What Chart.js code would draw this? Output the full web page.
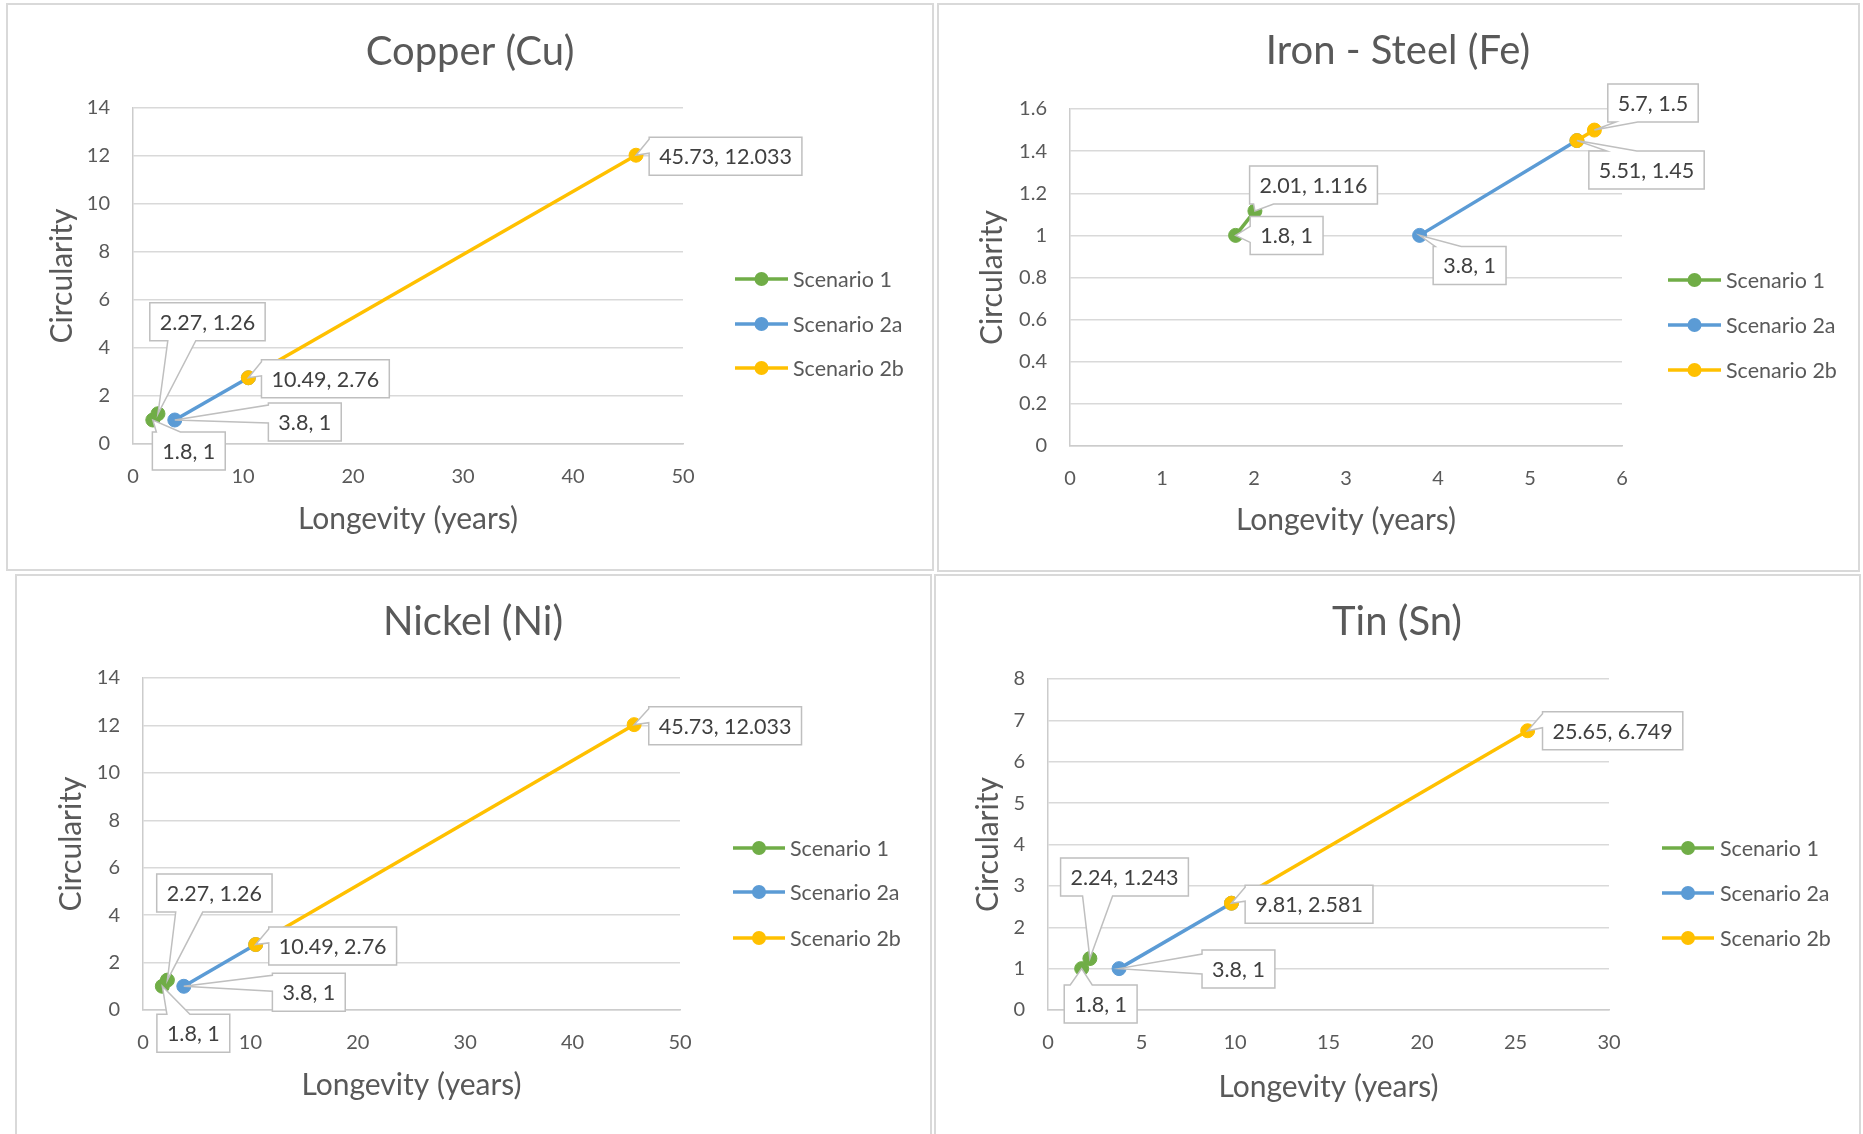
<!DOCTYPE html>
<html>
<head>
<meta charset="utf-8">
<title>Longevity vs circularity by metal</title>
<script src="https://cdn.jsdelivr.net/npm/chart.js@4.4.1/dist/chart.umd.min.js"></script>
<style>
  html, body { margin: 0; padding: 0; background: #fff; width: 1863px; height: 1134px; overflow: hidden; }
  canvas { position: absolute; }
  .frame { position: absolute; box-sizing: border-box; border: 2px solid #d9d9d9; pointer-events: none; }
</style>
</head>
<body>
<script>
// ---- Series (longevity in years, circularity) ----
const seriesNames = ['Scenario 1', 'Scenario 2a', 'Scenario 2b'];

const copperScenario1  = [[1.8, 1], [2.27, 1.26]];
const copperScenario2a = [[3.8, 1], [10.49, 2.76]];
const copperScenario2b = [[10.49, 2.76], [45.73, 12.033]];

const ironScenario1  = [[1.8, 1], [2.01, 1.116]];
const ironScenario2a = [[3.8, 1], [5.51, 1.45]];
const ironScenario2b = [[5.51, 1.45], [5.7, 1.5]];

const nickelScenario1  = [[1.8, 1], [2.27, 1.26]];
const nickelScenario2a = [[3.8, 1], [10.49, 2.76]];
const nickelScenario2b = [[10.49, 2.76], [45.73, 12.033]];

const tinScenario1  = [[1.8, 1], [2.24, 1.243]];
const tinScenario2a = [[3.8, 1], [9.81, 2.581]];
const tinScenario2b = [[9.81, 2.581], [25.65, 6.749]];

// ---- Axis ticks ----
const copperXTicks = [0, 10, 20, 30, 40, 50];
const copperYTicks = [0, 2, 4, 6, 8, 10, 12, 14];
const ironXTicks   = [0, 1, 2, 3, 4, 5, 6];
const ironYTicks   = [0, 0.2, 0.4, 0.6, 0.8, 1, 1.2, 1.4, 1.6];
const nickelXTicks = [0, 10, 20, 30, 40, 50];
const nickelYTicks = [0, 2, 4, 6, 8, 10, 12, 14];
const tinXTicks    = [0, 5, 10, 15, 20, 25, 30];
const tinYTicks    = [0, 1, 2, 3, 4, 5, 6, 7, 8];

// ---- Styling ----
const seriesColors = ['#70ad47', '#5b9bd5', '#ffc000'];
const FONT = 'Lato';
const TEXT = '#595959';
const LABEL_TEXT = '#404040';
const GRID = '#d9d9d9';
const AXIS = '#cccccc';
const CALLOUT = '#bfbfbf';
const TITLE_SIZE = 40, AXIS_TITLE_SIZE = 30, TICK_SIZE = 20, LABEL_SIZE = 21.5, LEGEND_SIZE = 21.5;

// Callout placement per point: box centre offset from the marker and where the pointer leaves the box
const copperCallouts = [
  [{dx: 36, dy: 31, side: 'top', a: 4, b: 28}, {dx: 49.5, dy: -92, side: 'bottom', a: 18, b: 46}],
  [{dx: 130, dy: 2, side: 'left', a: 2, b: 20}, {dx: 77, dy: 1, side: 'left', a: 2, b: 16}],
  [null, {dx: 89.5, dy: 1, side: 'left', a: 2, b: 16}]
];
const ironCallouts = [
  [{dx: 51, dy: 0, side: 'left', a: 10, b: 26}, {dx: 58.6, dy: -26, side: 'bottom', a: 4, b: 24}],
  [{dx: 50, dy: 30, side: 'top', a: 2, b: 28}, {dx: 69.6, dy: 29.4, side: 'top', a: 18, b: 48}],
  [null, {dx: 58.6, dy: -27, side: 'bottom', a: 8, b: 30}]
];
const nickelCallouts = [
  [{dx: 31, dy: 47, side: 'top', a: 10, b: 33}, {dx: 47, dy: -87, side: 'bottom', a: 19, b: 46}],
  [{dx: 125, dy: 6, side: 'left', a: 2, b: 18}, {dx: 77, dy: 1.4, side: 'left', a: 2, b: 16}],
  [null, {dx: 91, dy: 1, side: 'left', a: 2, b: 16}]
];
const tinCallouts = [
  [{dx: 19, dy: 35.4, side: 'top', a: 6, b: 28}, {dx: 34.6, dy: -81.6, side: 'bottom', a: 22, b: 52}],
  [{dx: 119.4, dy: 0.4, side: 'left', a: 4, b: 24}, {dx: 77.6, dy: 1, side: 'left', a: 2, b: 16}],
  [null, {dx: 85, dy: 0, side: 'left', a: 2, b: 16}]
];

// ---- Panel layout (page pixels) ----
const panels = [
  { title: 'Copper (Cu)', frame: [6, 3, 928, 568], plot: [133, 108, 683, 444], titleX: 470, titleBase: 65,
    yTitleX: 62, xTitleDy: 75, legend: {x0: 735, x1: 788, tx: 793, ys: [279, 324, 368]},
    series: [copperScenario1, copperScenario2a, copperScenario2b], xTicks: copperXTicks, yTicks: copperYTicks,
    callouts: copperCallouts },
  { title: 'Iron - Steel (Fe)', frame: [937, 3, 923, 569], plot: [1070, 109, 1622, 446], titleX: 1398, titleBase: 64,
    yTitleX: 992, xTitleDy: 74, legend: {x0: 1668, x1: 1721, tx: 1726, ys: [280, 325, 370]},
    series: [ironScenario1, ironScenario2a, ironScenario2b], xTicks: ironXTicks, yTicks: ironYTicks,
    callouts: ironCallouts },
  { title: 'Nickel (Ni)', frame: [15, 574, 917, 570], plot: [143, 678, 680, 1010], titleX: 473, titleBase: 635,
    yTitleX: 71, xTitleDy: 75, legend: {x0: 733, x1: 785, tx: 790, ys: [848, 892, 938]},
    series: [nickelScenario1, nickelScenario2a, nickelScenario2b], xTicks: nickelXTicks, yTicks: nickelYTicks,
    callouts: nickelCallouts },
  { title: 'Tin (Sn)', frame: [934, 574, 927, 570], plot: [1048, 679, 1609, 1010], titleX: 1397, titleBase: 635,
    yTitleX: 988, xTitleDy: 77, legend: {x0: 1662, x1: 1714, tx: 1720, ys: [848, 893, 938]},
    series: [tinScenario1, tinScenario2a, tinScenario2b], xTicks: tinXTicks, yTicks: tinYTicks,
    callouts: tinCallouts }
];

const fmt = v => String(+v.toFixed(6));

// Rectangle callout with a pointer running to the marker
function drawCallout(ctx, box, tip, c) {
  const {l, t, r, b} = box;
  const pts = [[l, t]];
  if (c.side === 'top') pts.push([l + c.a, t], [tip.x, tip.y], [l + c.b, t]);
  pts.push([r, t]);
  if (c.side === 'right') pts.push([r, t + c.a], [tip.x, tip.y], [r, t + c.b]);
  pts.push([r, b]);
  if (c.side === 'bottom') pts.push([l + c.b, b], [tip.x, tip.y], [l + c.a, b]);
  pts.push([l, b]);
  if (c.side === 'left') pts.push([l, t + c.b], [tip.x, tip.y], [l, t + c.a]);
  ctx.beginPath();
  pts.forEach(([x, y], i) => i ? ctx.lineTo(x, y) : ctx.moveTo(x, y));
  ctx.closePath();
  ctx.fillStyle = '#ffffff';
  ctx.fill();
  ctx.lineWidth = 1.5;
  ctx.strokeStyle = CALLOUT;
  ctx.lineJoin = 'miter';
  ctx.stroke();
}

function decorations(p) {
  const ox = p.frame[0], oy = p.frame[1];
  return {
    id: 'decorations',
    afterDatasetsDraw(chart) {
      const ctx = chart.ctx;
      ctx.save();
      ctx.font = `${LABEL_SIZE}px ${FONT}`;
      chart.data.datasets.forEach((ds, di) => {
        const meta = chart.getDatasetMeta(di);
        ds.data.forEach((pt, pi) => {
          const c = p.callouts[di][pi];
          if (!c) return;
          const el = meta.data[pi];
          const text = `${pt.x}, ${pt.y}`;
          const w = ctx.measureText(text).width + 20, h = 38;
          const cx = el.x + c.dx, cy = el.y + c.dy;
          const box = {l: cx - w / 2, t: cy - h / 2, r: cx + w / 2, b: cy + h / 2};
          drawCallout(ctx, box, {x: el.x, y: el.y}, c);
          ctx.fillStyle = LABEL_TEXT;
          ctx.textAlign = 'center';
          ctx.textBaseline = 'middle';
          ctx.fillText(text, cx, cy + 1);
        });
      });
      ctx.restore();
    },
    afterDraw(chart) {
      const ctx = chart.ctx;
      ctx.save();
      // chart title
      ctx.font = `${TITLE_SIZE}px ${FONT}`;
      ctx.fillStyle = TEXT;
      ctx.textAlign = 'center';
      ctx.textBaseline = 'alphabetic';
      ctx.fillText(p.title, p.titleX - ox, p.titleBase - oy);
      // legend: line with marker, then series name
      ctx.font = `${LEGEND_SIZE}px ${FONT}`;
      ctx.textAlign = 'left';
      ctx.textBaseline = 'middle';
      chart.data.datasets.forEach((ds, i) => {
        const y = p.legend.ys[i] - oy;
        const x0 = p.legend.x0 - ox, x1 = p.legend.x1 - ox;
        ctx.strokeStyle = ds.borderColor;
        ctx.lineWidth = 3.5;
        ctx.beginPath(); ctx.moveTo(x0, y); ctx.lineTo(x1, y); ctx.stroke();
        ctx.fillStyle = ds.borderColor;
        ctx.beginPath(); ctx.arc((x0 + x1) / 2, y, 7, 0, Math.PI * 2); ctx.fill();
        ctx.fillStyle = TEXT;
        ctx.fillText(ds.label, p.legend.tx - ox, y + 1);
      });
      ctx.restore();
    }
  };
}

function buildPanel(p) {
  const [fx, fy, fw, fh] = p.frame;
  const cv = document.createElement('canvas');
  cv.width = fw; cv.height = fh;
  cv.style.left = fx + 'px'; cv.style.top = fy + 'px';
  cv.style.width = fw + 'px'; cv.style.height = fh + 'px';
  document.body.appendChild(cv);
  const frame = document.createElement('div');
  frame.className = 'frame';
  Object.assign(frame.style, {left: fx + 'px', top: fy + 'px', width: fw + 'px', height: fh + 'px'});
  document.body.appendChild(frame);

  const area = {l: p.plot[0] - fx, t: p.plot[1] - fy, r: p.plot[2] - fx, b: p.plot[3] - fy};
  const YW = 110, XH = 110;
  const padding = {left: area.l - YW, top: area.t, right: fw - area.r, bottom: fh - area.b - XH};
  const lh = AXIS_TITLE_SIZE * 1.2;
  const yTitlePad = (p.yTitleX - fx) - padding.left - lh / 2;
  const xTitlePad = XH - p.xTitleDy - lh / 2;
  const tickLh = TICK_SIZE * 1.2;

  new Chart(cv, {
    type: 'scatter',
    data: {
      datasets: p.series.map((s, i) => ({
        label: seriesNames[i],
        data: s.map(([x, y]) => ({x, y})),
        order: p.series.length - 1 - i,   // later scenarios are painted over earlier ones
        showLine: true,
        borderColor: seriesColors[i],
        backgroundColor: seriesColors[i],
        borderWidth: 3.5,
        pointRadius: 7,
        pointHoverRadius: 7,
        pointBorderWidth: 1,
        pointBackgroundColor: seriesColors[i],
        pointBorderColor: seriesColors[i],
        tension: 0
      }))
    },
    options: {
      responsive: false,
      animation: false,
      devicePixelRatio: 1,
      events: [],
      layout: {padding},
      plugins: {legend: {display: false}, tooltip: {enabled: false}, title: {display: false}},
      scales: {
        x: {
          type: 'linear', position: 'bottom',
          min: p.xTicks[0], max: p.xTicks[p.xTicks.length - 1],
          afterBuildTicks: s => { s.ticks = p.xTicks.map(v => ({value: v})); },
          afterFit: s => { s.height = XH; },
          ticks: {color: TEXT, font: {family: FONT, size: TICK_SIZE}, padding: 33 - tickLh / 2,
                  maxRotation: 0, autoSkip: false, callback: v => fmt(v)},
          grid: {display: false, drawTicks: false},
          border: {display: true, color: AXIS, width: 1.5},
          title: {display: true, text: 'Longevity (years)', color: TEXT,
                  font: {family: FONT, size: AXIS_TITLE_SIZE}, padding: {top: 0, bottom: xTitlePad}}
        },
        y: {
          type: 'linear', position: 'left',
          min: p.yTicks[0], max: p.yTicks[p.yTicks.length - 1],
          afterBuildTicks: s => { s.ticks = p.yTicks.map(v => ({value: v})); },
          afterFit: s => { s.width = YW; },
          ticks: {color: TEXT, font: {family: FONT, size: TICK_SIZE}, padding: 23, autoSkip: false,
                  callback: v => fmt(v)},
          grid: {color: GRID, lineWidth: 1.5, drawTicks: false},
          border: {display: true, color: AXIS, width: 1.5},
          title: {display: true, text: 'Circularity', color: TEXT,
                  font: {family: FONT, size: AXIS_TITLE_SIZE}, padding: {top: yTitlePad, bottom: 0}}
        }
      }
    },
    plugins: [decorations(p)]
  });
}

panels.forEach(buildPanel);
</script>
</body>
</html>
